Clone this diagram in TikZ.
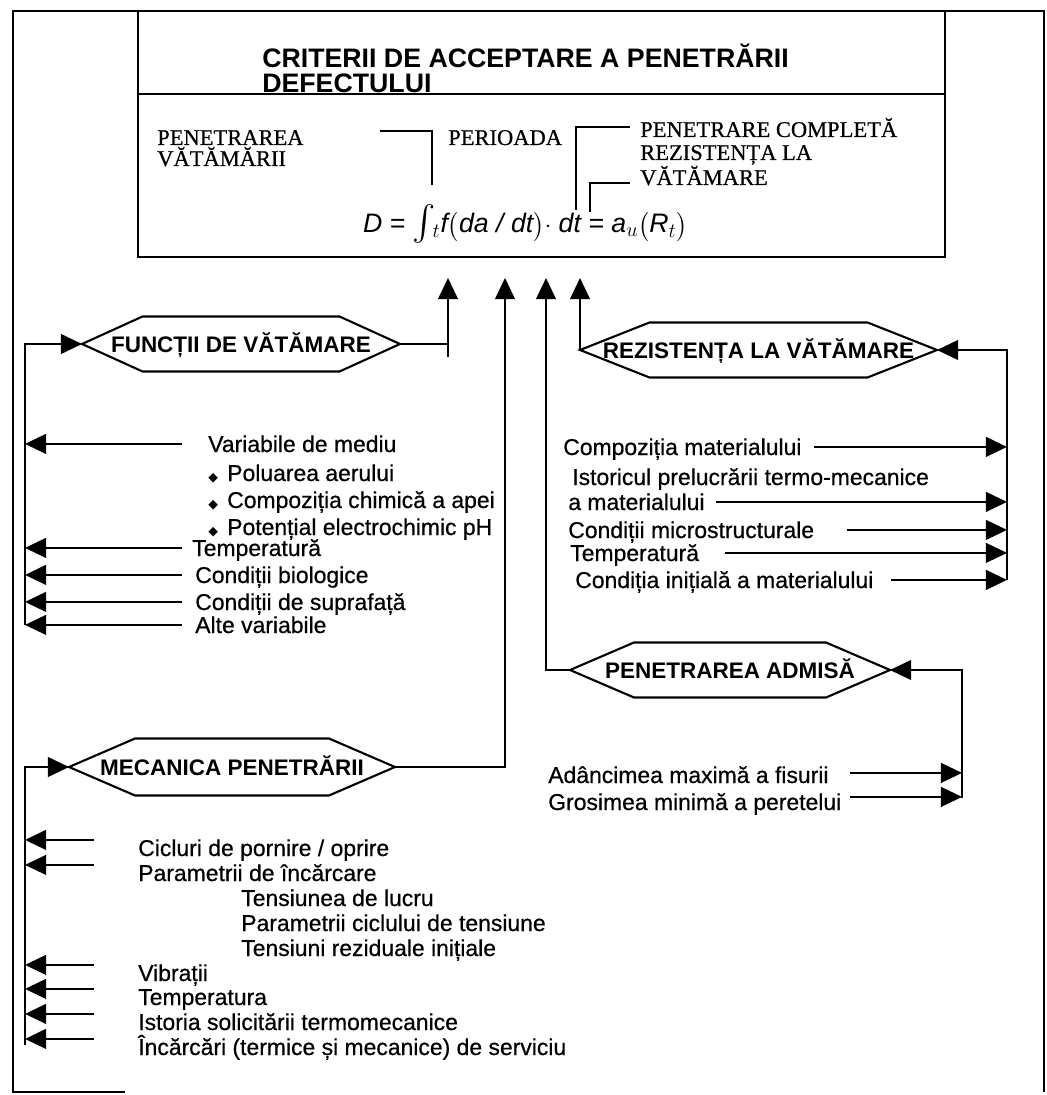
\documentclass[tikz,border=0pt]{standalone}
\usepackage{exscale}
\usepackage{fontspec}
\setmainfont{Liberation Sans}
\newfontfamily\listfont[FakeBold=0.6]{Liberation Sans}
\newfontfamily\capsfont[FakeBold=0.6]{Liberation Serif}
\newfontfamily\bulletfont{DejaVu Sans}
\usetikzlibrary{arrows.meta,calc}

\newcommand{\bul}{\makebox[13.5pt][l]{\bulletfont\fontsize{9}{9}\selectfont ◆}}

\tikzset{
  frame/.style={line width=1.4pt},
  link/.style={line width=1.5pt},
  arr/.style={line width=1.5pt,-{Triangle[length=15pt,width=14pt]}},
  brk/.style={line width=1.1pt},
  item/.style={inner sep=0pt,anchor=base west,text height=11.5pt,text depth=0pt,font=\listfont\fontsize{16.3}{18}\selectfont},
  caps/.style={inner sep=0pt,anchor=base west,text height=10.5pt,text depth=0pt,font=\capsfont\fontsize{16}{18}\selectfont},
  hexlabel/.style={inner sep=0pt,text height=11.5pt,text depth=0pt,font=\bfseries\fontsize{16}{18}\selectfont},
  heading/.style={inner sep=0pt,anchor=base west,text height=13pt,text depth=0pt,font=\bfseries\fontsize{19}{21}\selectfont},
}

% hexagon round a label: name, centre, flat half width, tip half width, half height, text
\newcommand{\hexbox}[6]{%
  \node[hexlabel] (#1) at #2 {#6};
  \draw[link] ($(#1.center)+(-#4,0)$) coordinate (#1-w)
    -- ++({#4-#3},-#5) -- ++({2*#3},0) -- ++({#4-#3},#5) coordinate (#1-e)
    -- ++({#3-#4},#5) -- ++({-2*#3},0) -- cycle;
}

\begin{document}
\begin{tikzpicture}[x=0.025cm,y=-0.025cm]
  \useasboundingbox (0,0) rectangle (1046,1095);
  % frame and criterion box
  \draw[frame] (125,1092) -- (13,1092) -- (13,11) -- (1044,11) -- (1044,1092);
  \draw[frame] (138,11) rectangle (945,257);
  \draw[frame] (138,94) -- (945,94);
  \node[heading] (tt1) at (262,68) {CRITERII DE ACCEPTARE A PENETRĂRII};
  \node[heading] (tt2) at (262,93) {DEFECTULUI};

  % integral and its labels
  \node[caps] (pv1) at (157,145) {PENETRAREA};
  \node[caps] (pv2) at (157,166) {VĂTĂMĂRII};
  \node[caps] (per) at (448,145) {PERIOADA};
  \node[caps] (pc1) at (640,137) {PENETRARE COMPLETĂ};
  \node[caps] (pc2) at (640,160) {REZISTENȚA LA};
  \node[caps] (pc3) at (640,185) {VĂTĂMARE};
  \node[anchor=base east,inner sep=0pt,font=\itshape\fontsize{19}{22}\selectfont] (eq) at (688,233)
    {D = {\fontsize{26}{26}\selectfont$\int$}$_{\!t}$f$\bigl($da / dt$\bigr)\cdot$ dt = a$_{u}\bigl($R$_{t}\bigr)$};
  \coordinate (k1) at (380,131);
  \coordinate (k1e) at (432,185);
  \coordinate (k2) at (630,127);
  \coordinate (k2e) at (576,210);
  \coordinate (k3) at (630,183);
  \coordinate (k3e) at (590,212);
  \draw[brk] (k1) -| (k1e);
  \draw[brk] (k2) -| (k2e);
  \draw[brk] (k3) -| (k3e);

  % inputs of the criterion
  \coordinate (a1) at (448,278);
  \coordinate (a2) at (505,278);
  \coordinate (a3) at (546,278);
  \coordinate (a4) at (580,278);

  \hexbox{fv}{(241,344)}{98.5}{159}{27.5}{FUNCȚII DE VĂTĂMARE}
  \hexbox{mp}{(232,767)}{97}{163}{28.5}{MECANICA PENETRĂRII}
  \hexbox{rv}{(758.5,350)}{109}{178.5}{27.5}{REZISTENȚA LA VĂTĂMARE}
  \hexbox{pa}{(730,670)}{96}{160}{27.5}{PENETRAREA ADMISĂ}

  \draw[link] (fv-e) -- (fv-e -| a1);
  \draw[arr] ($(fv-e -| a1)+(0,13)$) -- (a1);
  \draw[arr] (mp-e) -| (a2);
  \draw[arr] (pa-w) -| (a3);
  \draw[arr] (rv-w) -| (a4);

  % damage functions
  \coordinate (fl) at (25,625);
  \coordinate (ftail) at (182,444);
  \draw[arr] (fl) |- (fv-w);
  \node[item] (vm) at (208,452) {Variabile de mediu};
  \node[item] (fb1) at (208,481) {\bul Poluarea aerului};
  \node[item] (fb2) at (208,508) {\bul Compoziția chimică a apei};
  \node[item] (fb3) at (208,535) {\bul Potențial electrochimic pH};
  \node[item] (ft) at (192,556) {Temperatură};
  \node[item] (cb) at (195,583) {Condiții biologice};
  \node[item] (cs) at (195,610) {Condiții de suprafață};
  \node[item] (av) at (195,633) {Alte variabile};
  \draw[arr] (vm.west -| ftail) -- (vm.west -| fl);
  \draw[arr] (ft.west -| ftail) -- (ft.west -| fl);
  \draw[arr] (cb.west -| ftail) -- (cb.west -| fl);
  \draw[arr] (cs.west -| ftail) -- (cs.west -| fl);
  \draw[arr] (av.west -| ftail) -- (av.west -| fl);

  % damage resistance
  \coordinate (rl) at (1007,580);
  \draw[arr] (rl) |- (rv-e);
  \node[item] (cm) at (563,455) {Compoziția materialului};
  \node[item] (ip) at (572,485) {Istoricul prelucrării termo-mecanice};
  \node[item] (am) at (568,510) {a materialului};
  \node[item] (ms) at (568,538) {Condiții microstructurale};
  \node[item] (rt) at (570,561) {Temperatură};
  \node[item] (ci) at (575,588) {Condiția inițială a materialului};
  \draw[arr] ($(cm.east)+(12,0)$) -- (cm.east -| rl);
  \draw[arr] ($(am.east)+(11,0)$) -- (am.east -| rl);
  \draw[arr] ($(ms.east)+(33,0)$) -- (ms.east -| rl);
  \draw[arr] ($(rt.east)+(26,0)$) -- (rt.east -| rl);
  \draw[arr] ($(ci.east)+(17,0)$) -- (ci.east -| rl);

  % admissible penetration
  \coordinate (pl) at (962,798);
  \coordinate (ptail) at (850,0);
  \draw[arr] (pl) |- (pa-e);
  \node[item] (ad) at (548,783) {Adâncimea maximă a fisurii};
  \node[item] (gr) at (548,810) {Grosimea minimă a peretelui};
  \draw[arr] ($(ad.west -| ptail)+(0,-2)$) -- ($(ad.west -| pl)+(0,-2)$);
  \draw[arr] ($(gr.west -| ptail)+(0,-5)$) -- ($(gr.west -| pl)+(0,-5)$);

  % penetration mechanics
  \coordinate (ml) at (25,1045);
  \draw[arr] (ml) |- (mp-w);
  \node[item] (cp) at (138,856) {Cicluri de pornire / oprire};
  \node[item] (pi) at (138,881) {Parametrii de încărcare};
  \node[item] (tl) at (241,906) {Tensiunea de lucru};
  \node[item] (pt) at (241,931) {Parametrii ciclului de tensiune};
  \node[item] (tr) at (241,956) {Tensiuni reziduale inițiale};
  \node[item] (vb) at (138,981) {Vibrații};
  \node[item] (tm) at (138,1005) {Temperatura};
  \node[item] (is) at (138,1030) {Istoria solicitării termomecanice};
  \node[item] (ic) at (138,1055) {Încărcări (termice și mecanice) de serviciu};
  \draw[arr] ($(cp.west)+(-44,-8)$) -- ++(-69,0);
  \draw[arr] ($(pi.west)+(-44,-8)$) -- ++(-69,0);
  \draw[arr] ($(vb.west)+(-44,-8)$) -- ++(-69,0);
  \draw[arr] ($(tm.west)+(-44,-8)$) -- ++(-69,0);
  \draw[arr] ($(is.west)+(-44,-8)$) -- ++(-69,0);
  \draw[arr] ($(ic.west)+(-44,-8)$) -- ++(-69,0);
\end{tikzpicture}
\end{document}
